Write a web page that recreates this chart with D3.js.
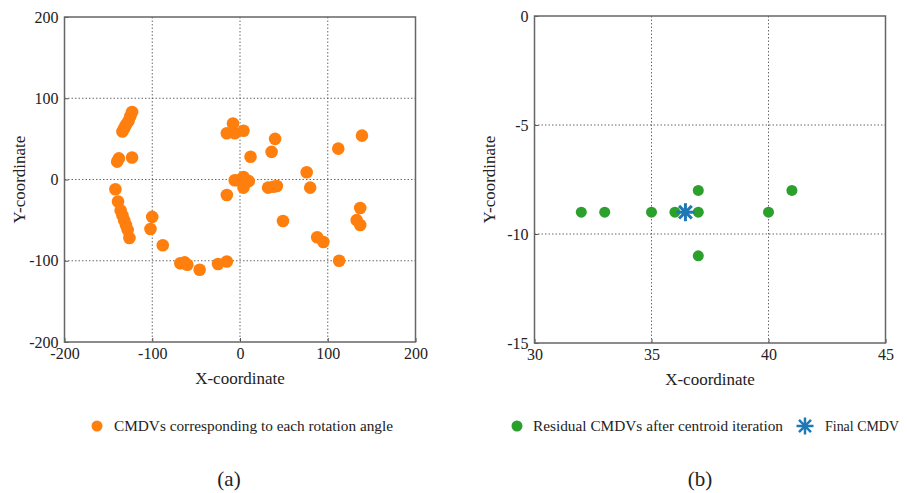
<!DOCTYPE html>
<html>
<head>
<meta charset="utf-8">
<script src="https://cdn.jsdelivr.net/npm/d3@7"></script>
<style>
  body { margin: 0; background: #fff; }
</style>
</head>
<body>
<svg id="chart" width="907" height="493"></svg>
<script>
// (a) CMDVs for each rotation angle
const cmdvX = [-123, -125, -127, -130, -132, -134, -140, -138, -123,
  -142, -139, -136, -134, -132, -130, -128, -126,
  -100, -102, -88, -68, -63, -60, -46, -25, -15,
  -8, -15, -6, 4, 40, 36, 12,
  -2, 4, 10, 4, -6, -15, 32, 38, 42, 76, 80,
  139, 112, 49, 137, 133, 137, 88, 95, 113]
const cmdvY = [83, 78, 72, 67, 63, 59, 22, 26, 27,
  -12, -27, -38, -44, -50, -56, -62, -72,
  -46, -61, -81, -103, -102, -105, -111, -104, -101,
  69, 57, 57, 60, 50, 34, 28,
  -1, 3, -2, -10, -1, -19, -10, -9, -8, 9, -10,
  54, 38, -51, -35, -50, -56, -71, -77, -100]

// (b) residual CMDVs and final CMDV
const residX = [32, 33, 35, 36, 37, 37, 37, 40, 41]
const residY = [-9, -9, -9, -9, -9, -8, -11, -9, -8]
const finalCMDV = [36.45, -9]

const ticksA = [-200, -100, 0, 100, 200]
const ticksBx = [30, 35, 40, 45]
const ticksBy = [0, -5, -10, -15]

const serif = "'Liberation Serif', 'Times New Roman', 'DejaVu Serif', serif"
const svg = d3.select("#chart")

const label = (sel, size) => sel.style("font-family", serif).style("font-size", size + "px").style("fill", "#222")

const panel = (opt) => {
    const x = d3.scaleLinear().domain(opt.xDomain).range([opt.left, opt.right])
    const y = d3.scaleLinear().domain(opt.yDomain).range([opt.bottom, opt.top])
    const g = svg.append("g")

    // grid
    g.append("g").selectAll("line")
        .data(opt.xTicks.slice(1, -1))
        .join("line")
        .attr("x1", d => x(d)).attr("x2", d => x(d))
        .attr("y1", opt.top).attr("y2", opt.bottom)
        .attr("stroke", "#444").attr("stroke-width", 0.8)
        .attr("stroke-dasharray", "1.5,2")
    g.append("g").selectAll("line")
        .data(opt.yTicks.slice(1, -1))
        .join("line")
        .attr("y1", d => y(d)).attr("y2", d => y(d))
        .attr("x1", opt.left).attr("x2", opt.right)
        .attr("stroke", "#444").attr("stroke-width", 0.8)
        .attr("stroke-dasharray", "1.5,2")

    // axes with inward ticks, plain hyphen minus like the original
    const fmt = d => String(d)
    const xa = g.append("g").attr("transform", `translate(0,${opt.bottom})`)
        .call(d3.axisBottom(x).tickValues(opt.xTicks).tickFormat(fmt).tickSize(-4).tickPadding(6))
    const ya = g.append("g").attr("transform", `translate(${opt.left},0)`)
        .call(d3.axisLeft(y).tickValues(opt.yTicks).tickFormat(fmt).tickSize(-4).tickPadding(6))
    ;[xa, ya].forEach(a => {
        a.select(".domain").remove()
        a.selectAll("line").attr("stroke", "#555")
        a.selectAll("text").call(label, 16)
    })

    // frame
    g.append("rect")
        .attr("x", opt.left).attr("y", opt.top)
        .attr("width", opt.right - opt.left).attr("height", opt.bottom - opt.top)
        .attr("fill", "none").attr("stroke", "#666").attr("stroke-width", 1.5)

    // axis titles
    g.append("text")
        .attr("x", (opt.left + opt.right) / 2).attr("y", opt.bottom + 42)
        .attr("text-anchor", "middle").call(label, 17)
        .text("X-coordinate")
    g.append("text")
        .attr("transform", `translate(${opt.left - 40},${(opt.top + opt.bottom) / 2}) rotate(-90)`)
        .attr("text-anchor", "middle").call(label, 17)
        .text("Y-coordinate")

    return { x, y, g }
}

// panel (a)
const a = panel({ xDomain: [-200, 200], yDomain: [-200, 200], left: 64.5, right: 415.5, top: 17, bottom: 342,
    xTicks: ticksA, yTicks: ticksA })
a.g.append("g").selectAll("circle")
    .data(d3.range(cmdvX.length))
    .join("circle")
    .attr("cx", i => a.x(cmdvX[i]))
    .attr("cy", i => a.y(cmdvY[i]))
    .attr("r", 6.3)
    .attr("fill", "#ff7f0e")

// panel (b)
const b = panel({ xDomain: [30, 45], yDomain: [-15, 0], left: 534.5, right: 885.5, top: 16, bottom: 343,
    xTicks: ticksBx, yTicks: ticksBy })
b.g.append("g").selectAll("circle")
    .data(d3.range(residX.length))
    .join("circle")
    .attr("cx", i => b.x(residX[i]))
    .attr("cy", i => b.y(residY[i]))
    .attr("r", 5.5)
    .attr("fill", "#2ca02c")

const star = (sel, cx, cy, r, w) => {
    const s = sel.append("g").attr("transform", `translate(${cx},${cy})`)
    ;[0, 45, 90, 135].forEach(ang => {
        const t = ang * Math.PI / 180
        s.append("line")
            .attr("x1", -r * Math.cos(t)).attr("y1", -r * Math.sin(t))
            .attr("x2", r * Math.cos(t)).attr("y2", r * Math.sin(t))
            .attr("stroke", "#1f77b4").attr("stroke-width", w)
    })
}
star(b.g, b.x(finalCMDV[0]), b.y(finalCMDV[1]), 9, 3)

// legends
const leg = svg.append("g")
leg.append("circle").attr("cx", 97).attr("cy", 426).attr("r", 5.5).attr("fill", "#ff7f0e")
leg.append("text").attr("x", 114).attr("y", 431).call(label, 15)
    .attr("textLength", 279).attr("lengthAdjust", "spacingAndGlyphs")
    .text("CMDVs corresponding to each rotation angle")
leg.append("circle").attr("cx", 517).attr("cy", 426).attr("r", 5.5).attr("fill", "#2ca02c")
leg.append("text").attr("x", 533).attr("y", 431).call(label, 15)
    .attr("textLength", 250).attr("lengthAdjust", "spacingAndGlyphs")
    .text("Residual CMDVs after centroid iteration")
star(leg, 805, 426, 8.5, 2.5)
leg.append("text").attr("x", 825).attr("y", 431).call(label, 15)
    .attr("textLength", 74).attr("lengthAdjust", "spacingAndGlyphs")
    .text("Final CMDV")

// sub-captions
svg.append("text").attr("x", 229).attr("y", 486).attr("text-anchor", "middle").call(label, 21).text("(a)")
svg.append("text").attr("x", 700).attr("y", 486).attr("text-anchor", "middle").call(label, 21).text("(b)")
</script>
</body>
</html>
